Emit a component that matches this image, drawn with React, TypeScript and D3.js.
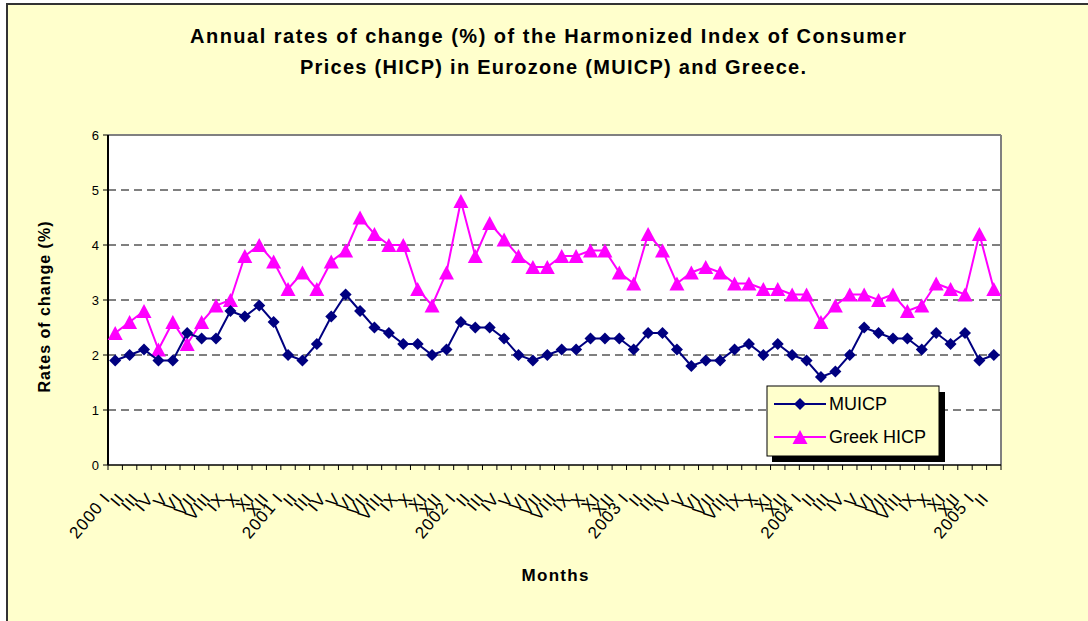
import * as d3 from 'd3';
import React from 'react';

const years = ['2000', '2001', '2002', '2003', '2004', '2005'];
const romans = ['I', 'II', 'III', 'IV', 'V', 'VI', 'VII', 'VIII', 'IX', 'X', 'XI', 'XII'];

// Jan 2000 .. Feb 2005
const muicp = [
  1.9, 2.0, 2.1, 1.9, 1.9, 2.4, 2.3, 2.3, 2.8, 2.7, 2.9, 2.6,
  2.0, 1.9, 2.2, 2.7, 3.1, 2.8, 2.5, 2.4, 2.2, 2.2, 2.0, 2.1,
  2.6, 2.5, 2.5, 2.3, 2.0, 1.9, 2.0, 2.1, 2.1, 2.3, 2.3, 2.3,
  2.1, 2.4, 2.4, 2.1, 1.8, 1.9, 1.9, 2.1, 2.2, 2.0, 2.2, 2.0,
  1.9, 1.6, 1.7, 2.0, 2.5, 2.4, 2.3, 2.3, 2.1, 2.4, 2.2, 2.4,
  1.9, 2.0,
];
const greekHicp = [
  2.4, 2.6, 2.8, 2.1, 2.6, 2.2, 2.6, 2.9, 3.0, 3.8, 4.0, 3.7,
  3.2, 3.5, 3.2, 3.7, 3.9, 4.5, 4.2, 4.0, 4.0, 3.2, 2.9, 3.5,
  4.8, 3.8, 4.4, 4.1, 3.8, 3.6, 3.6, 3.8, 3.8, 3.9, 3.9, 3.5,
  3.3, 4.2, 3.9, 3.3, 3.5, 3.6, 3.5, 3.3, 3.3, 3.2, 3.2, 3.1,
  3.1, 2.6, 2.9, 3.1, 3.1, 3.0, 3.1, 2.8, 2.9, 3.3, 3.2, 3.1,
  4.2, 3.2,
];
const yTicks = [0, 1, 2, 3, 4, 5, 6];

const monthLabels = muicp.map((_, i) => {
  const m = i % 12;
  return m === 0 ? years[Math.floor(i / 12)] + ' ' + romans[m] : romans[m];
});

const font = "Arial, 'Liberation Sans', sans-serif";
const NAVY = '#000080';
const PINK = '#FF00FF';

export default function App() {
  const left = 108, right = 1001, top = 135, bottom = 465;

  const x = d3.scaleBand<number>().domain(d3.range(muicp.length)).range([left, right]);
  const cx = (i: number) => (x(i) as number) + x.bandwidth() / 2;
  const y = d3.scaleLinear().domain([0, 6]).range([bottom, top]);

  const line = d3.line<number>().x((_, i) => cx(i)).y(d => y(d));

  const diamond = 'M0,-6L6,0L0,6L-6,0Z';
  const triangle = 'M0,-7L7.5,7L-7.5,7Z';

  const tickXs = d3.range(muicp.length + 1).map(i => left + i * x.step());

  return (
    <svg width={1088} height={621} style={{ position: 'absolute', left: 0, top: 0 }}>
      <rect x={7} y={4} width={1100} height={640} fill="#FFFFCC" stroke="#333" strokeWidth={2} />

      {/* title */}
      <text x={548} y={43} textAnchor="middle" fontFamily={font} fontWeight="bold" fontSize={20}
        textLength={716} lengthAdjust="spacing">
        Annual rates of change (%) of the Harmonized Index of Consumer
      </text>
      <text x={553} y={74} textAnchor="middle" fontFamily={font} fontWeight="bold" fontSize={20}
        textLength={506} lengthAdjust="spacing">
        Prices (HICP) in Eurozone (MUICP) and Greece.
      </text>

      {/* plot area */}
      <rect x={left} y={top} width={right - left} height={bottom - top} fill="#fff" />
      <line x1={left} x2={right} y1={top} y2={top} stroke="#808080" strokeWidth={2} />
      <line x1={right} x2={right} y1={top} y2={bottom} stroke="#808080" strokeWidth={2} />

      {yTicks.filter(t => t > 0 && t < 6).map(t => (
        <line key={t} x1={left} x2={right} y1={y(t)} y2={y(t)} stroke="#000" strokeWidth={1} strokeDasharray="8,5" />
      ))}

      {/* y axis */}
      <line x1={left} x2={left} y1={top} y2={bottom} stroke="#000" strokeWidth={2} />
      {yTicks.map(t => (
        <g key={t}>
          <line x1={left - 5} x2={left} y1={y(t)} y2={y(t)} stroke="#000" />
          <text x={99} y={y(t)} dy="0.35em" textAnchor="end" fontFamily={font} fontSize={13}>{t}</text>
        </g>
      ))}

      {/* x axis */}
      <line x1={left} x2={right} y1={bottom} y2={bottom} stroke="#000" strokeWidth={1.5} />
      {tickXs.map((tx, i) => (
        <line key={i} x1={tx} x2={tx} y1={bottom} y2={bottom + 5} stroke="#000" />
      ))}
      {monthLabels.map((lab, i) => (
        <text key={i} transform={`translate(${cx(i) - 4},${bottom + 34}) rotate(-50)`} textAnchor="end"
          fontFamily={font} fontSize={17} letterSpacing={1}>{lab}</text>
      ))}

      {/* series */}
      <path d={line(greekHicp) || ''} fill="none" stroke={PINK} strokeWidth={2} />
      {greekHicp.map((v, i) => (
        <path key={i} d={triangle} transform={`translate(${cx(i)},${y(v)})`} fill={PINK} />
      ))}
      <path d={line(muicp) || ''} fill="none" stroke={NAVY} strokeWidth={2} />
      {muicp.map((v, i) => (
        <path key={i} d={diamond} transform={`translate(${cx(i)},${y(v)})`} fill={NAVY} />
      ))}

      {/* axis titles */}
      <text transform="translate(50,307) rotate(-90)" textAnchor="middle" fontFamily={font}
        fontWeight="bold" fontSize={16} textLength={171} lengthAdjust="spacing">Rates of change (%)</text>
      <text x={555} y={581} textAnchor="middle" fontFamily={font} fontWeight="bold" fontSize={17}
        textLength={67} lengthAdjust="spacing">Months</text>

      {/* legend */}
      <rect x={772} y={392} width={173} height={70} fill="#000" />
      <rect x={767} y={386} width={172} height={70} fill="#FFFFCC" stroke="#000" strokeWidth={1} />
      <line x1={774} x2={826} y1={404} y2={404} stroke={NAVY} strokeWidth={2} />
      <path d={diamond} transform="translate(800,404)" fill={NAVY} />
      <text x={829} y={404} dy="0.35em" fontFamily={font} fontSize={18}>MUICP</text>
      <line x1={774} x2={826} y1={437} y2={437} stroke={PINK} strokeWidth={2} />
      <path d={triangle} transform="translate(800,437)" fill={PINK} />
      <text x={829} y={437} dy="0.35em" fontFamily={font} fontSize={18}>Greek HICP</text>
    </svg>
  );
}
